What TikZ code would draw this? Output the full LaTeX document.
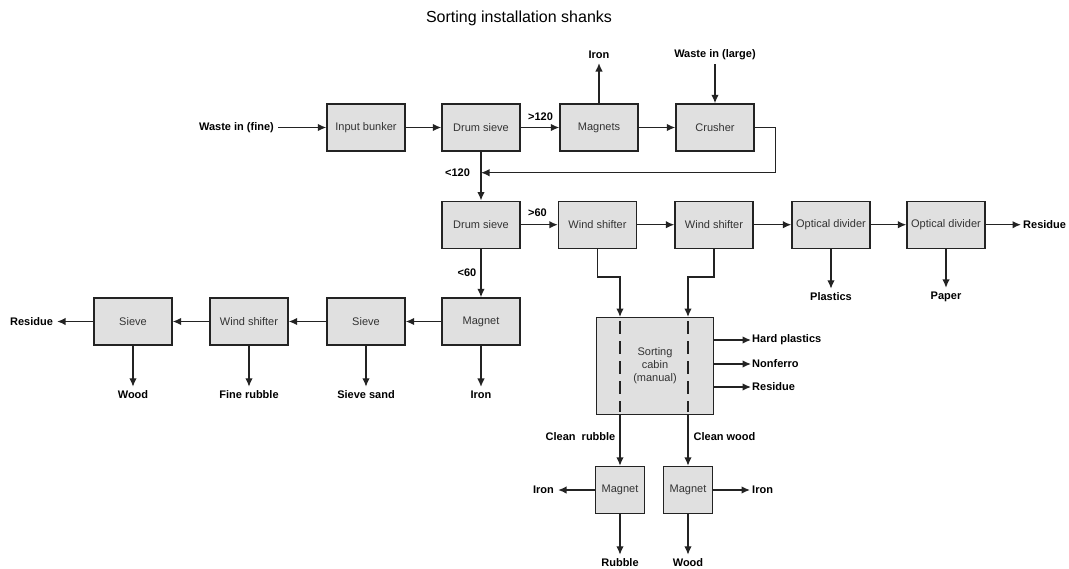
\documentclass[tikz,border=0pt]{standalone}
\usepackage{fontspec}
\setmainfont{Liberation Sans}
\usetikzlibrary{arrows.meta}
\definecolor{boxgray}{RGB}{224,224,224}
\definecolor{linegray}{RGB}{35,35,35}

\begin{document}
\begin{tikzpicture}[x=1pt,y=-1pt,
    every node/.style={font=\fontsize{11}{13}\selectfont},
    unit/.style={draw=linegray,line width=1.4pt,fill=boxgray,
        minimum width=78pt,minimum height=47pt,inner sep=0pt,
        text=black!80,align=center},
    lbl/.style={font=\fontsize{11}{13}\selectfont\bfseries,inner sep=4pt},
    flow/.style={draw=linegray,line width=1.4pt,-{Latex[length=8.5pt,width=7.5pt]}}]
    \useasboundingbox (0,0) rectangle (1069,568);
    \node[font=\fontsize{16}{18}\selectfont] (title) at (519,18)
        {Sorting installation shanks};

    % first line: bunker, drum sieve, magnets, crusher
    \node[lbl] (wfine) at (236.5,127.5) {Waste in (fine)};
    \node[unit] (bunker) at (366,127.5) {Input bunker};
    \node[unit] (drumA) at (481,127.5) {Drum sieve};
    \node[unit] (magnets) at (599,127.5) {Magnets};
    \node[unit] (crusher) at (715,127.5) {Crusher};
    \node[lbl] (ironA) at (599,55) {Iron};
    \node[lbl] (wlarge) at (715,55) {Waste in (large)};
    \node[lbl] (gtA) at (540.5,117) {>120};
    \node[lbl] (ltA) at (457.5,172.7) {<120};
    \coordinate (join) at (481,172.7);
    \draw[flow] (wfine) -- (bunker);
    \draw[flow] (bunker) -- (drumA);
    \draw[flow] (drumA) -- (magnets);
    \draw[flow] (magnets) -- (crusher);
    \draw[flow] (magnets) -- (ironA);
    \draw[flow] (wlarge) -- (crusher);
    \draw[flow] (crusher.east) -- ++(21,0) |- (join);

    % second line: drum sieve, wind shifters, optical dividers
    \node[unit] (drumB) at (481,224.7) {Drum sieve};
    \node[unit] (windA) at (597.5,224.7) {Wind shifter};
    \node[unit] (windB) at (714,224.7) {Wind shifter};
    \node[unit] (optA) at (831,224.7) {Optical divider};
    \node[unit] (optB) at (946,224.7) {Optical divider};
    \node[lbl,inner sep=2pt,anchor=west] (resA) at (1021,224.7) {Residue};
    \node[lbl] (plastics) at (831,297) {Plastics};
    \node[lbl] (paper) at (946,297) {Paper};
    \node[lbl] (gtB) at (537.5,213) {>60};
    \node[lbl] (ltB) at (467,272.7) {<60};
    \draw[flow] (drumA) -- (drumB);
    \draw[flow] (drumB) -- (windA);
    \draw[flow] (windA) -- (windB);
    \draw[flow] (windB) -- (optA);
    \draw[flow] (optA) -- (optB);
    \draw[flow] (optB) -- (resA);
    \draw[flow] (optA) -- (plastics);
    \draw[flow] (optB) -- (paper);

    % third line, running to the left
    \node[unit] (magC) at (481,321.5) {Magnet};
    \node[unit] (sieveA) at (366,321.5) {Sieve};
    \node[unit] (windC) at (249,321.5) {Wind shifter};
    \node[unit] (sieveB) at (133,321.5) {Sieve};
    \node[lbl] (resC) at (31.5,321.5) {Residue};
    \node[lbl] (ironC) at (481,395) {Iron};
    \node[lbl] (sand) at (366,395) {Sieve sand};
    \node[lbl] (frubble) at (249,395) {Fine rubble};
    \node[lbl] (woodA) at (133,395) {Wood};
    \draw[flow] (drumB) -- (magC);
    \draw[flow] (magC) -- (sieveA);
    \draw[flow] (sieveA) -- (windC);
    \draw[flow] (windC) -- (sieveB);
    \draw[flow] (sieveB) -- (resC);
    \draw[flow] (magC) -- (ironC);
    \draw[flow] (sieveA) -- (sand);
    \draw[flow] (windC) -- (frubble);
    \draw[flow] (sieveB) -- (woodA);

    % hand sorting and the two magnets below it
    \node[unit,minimum width=116.6pt,minimum height=96.6pt] (cabin)
        at (655,366) {Sorting\\cabin\\(manual)};
    \node[unit,minimum width=49pt] (magD) at (620,490) {Magnet};
    \node[unit,minimum width=49pt] (magE) at (688,490) {Magnet};
    \coordinate (dropA) at (620,277);
    \coordinate (dropB) at (688,277);
    \draw[flow] (windA.south) |- (dropA) -- (dropA |- cabin.north);
    \draw[flow] (windB.south) |- (dropB) -- (dropB |- cabin.north);
    \foreach \d in {dropA,dropB}
        \draw[linegray,line width=1.4pt,dash pattern=on 13pt off 7pt,
            shorten <=4pt,shorten >=3pt] (\d |- cabin.north) -- (\d |- cabin.south);
    \node[lbl,inner sep=1pt,anchor=west] (hardp) at (751,340) {Hard plastics};
    \node[lbl,inner sep=1pt,anchor=west] (nonf) at (751,364) {Nonferro};
    \node[lbl,inner sep=1pt,anchor=west] (resB) at (751,387) {Residue};
    \foreach \o in {hardp,nonf,resB}
        \draw[flow] (cabin.east |- \o) -- (\o);
    \node[lbl] (crubble) at (580.5,437) {Clean~ rubble};
    \node[lbl] (cwood) at (724.5,437) {Clean wood};
    \draw[flow] (dropA |- cabin.south) -- (magD);
    \draw[flow] (dropB |- cabin.south) -- (magE);
    \node[lbl] (ironL) at (543.5,490) {Iron};
    \node[lbl,inner sep=2pt,anchor=west] (ironR) at (750,490) {Iron};
    \node[lbl] (rubble) at (620,563) {Rubble};
    \node[lbl] (woodB) at (688,563) {Wood};
    \draw[flow] (magD) -- (ironL);
    \draw[flow] (magE) -- (ironR);
    \draw[flow] (magD) -- (rubble);
    \draw[flow] (magE) -- (woodB);
\end{tikzpicture}
\end{document}
